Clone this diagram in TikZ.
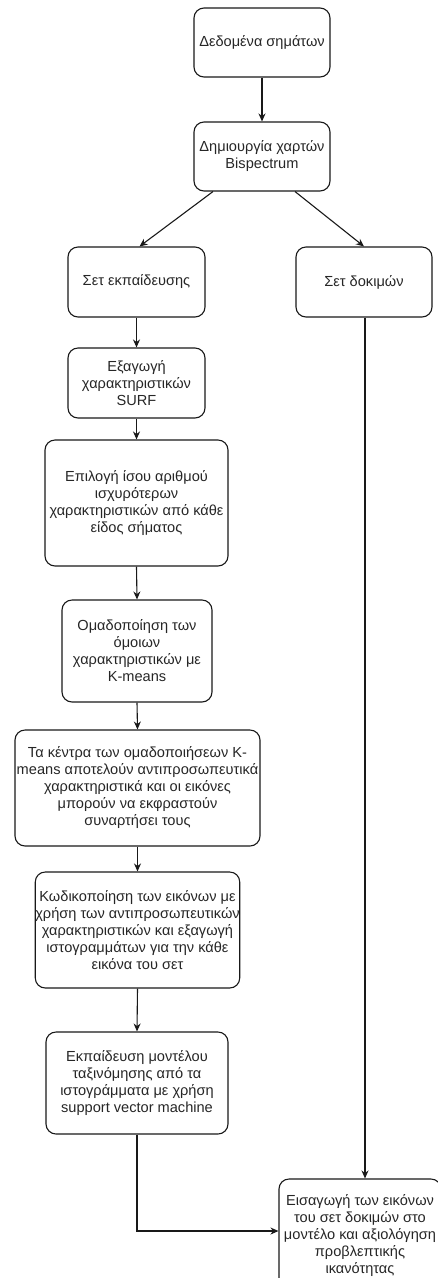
\documentclass[tikz,border=0pt]{standalone}
\usepackage{fontspec}
\setmainfont{Liberation Sans}
\usetikzlibrary{arrows.meta,positioning,calc}

\tikzset{
  stepbox/.style={draw=black!90, line width=1.1pt, rounded corners=10pt,
    inner sep=0pt, align=center, text=black!85,
    font=\fontsize{14.6}{17}\selectfont},
  arr/.style={draw=black!90, line width=1.1pt, -{Stealth[length=8pt,width=7pt]}},
  plain/.style={draw=black!90, line width=1.1pt}
}

\begin{document}
\begin{tikzpicture}[x=1pt,y=-1pt]
  \useasboundingbox (0,0) rectangle (438,1278);
  \clip (0,0) rectangle (438,1278);

  \node[stepbox, minimum width=136pt, minimum height=69pt] (data) at (262,42.5)
    {Δεδομένα σημάτων};
  \node[stepbox, minimum width=136pt, minimum height=69pt] (bisp) at (262,156.5)
    {Δημιουργία χαρτών\\Bispectrum};
  \node[stepbox, minimum width=137pt, minimum height=70pt] (train) at (136.5,282)
    {Σετ εκπαίδευσης};
  \node[stepbox, minimum width=136pt, minimum height=70pt] (test) at (364,282)
    {Σετ δοκιμών};
  \node[stepbox, minimum width=137pt, minimum height=70pt] (surf) at (136.5,383)
    {Εξαγωγή\\χαρακτηριστικών\\SURF};
  \node[stepbox, minimum width=183pt, minimum height=126pt] (select) at (136.5,503)
    {Επιλογή ίσου αριθμού\\ισχυρότερων\\χαρακτηριστικών από κάθε\\είδος σήματος};
  \node[stepbox, minimum width=150pt, minimum height=102pt] (cluster) at (137,651)
    {Ομαδοποίηση των\\όμοιων\\χαρακτηριστικών με\\K-means};
  \node[stepbox, minimum width=245pt, minimum height=116pt] (centres) at (137.5,788)
    {Τα κέντρα των ομαδοποιήσεων K-\\means αποτελούν αντιπροσωπευτικά\\χαρακτηριστικά και οι εικόνες\\μπορούν να εκφραστούν\\συναρτήσει τους};
  \node[stepbox, minimum width=200pt, minimum height=116pt] (encode) at (137.5,930)
    {Κωδικοποίηση των εικόνων με\\χρήση των αντιπροσωπευτικών\\χαρακτηριστικών και εξαγωγή\\ιστογραμμάτων για την κάθε\\εικόνα του σετ};
  \node[stepbox, minimum width=182pt, minimum height=102pt] (svm) at (137,1083)
    {Εκπαίδευση μοντέλου\\ταξινόμησης από τα\\ιστογράμματα με χρήση\\support vector machine};
  \node[stepbox, minimum width=162pt, minimum height=112pt] (final) at (360,1235)
    {Εισαγωγή των εικόνων\\του σετ δοκιμών στο\\μοντέλο και αξιολόγηση\\προβλεπτικής\\ικανότητας};

  \draw[arr] (data.south) -- (bisp.north);
  \draw[arr] ([xshift=-49pt]bisp.south) -- ([xshift=3pt]train.north);
  \draw[arr] ([xshift=33pt]bisp.south) -- (test.north);
  \draw[arr] (train.south) -- (surf.north);
  \draw[arr] (surf.south) -- (select.north);
  \draw[arr] (select.south) -- (cluster.north);
  \draw[arr] (cluster.south) -- (centres.north);
  \draw[arr] (centres.south) -- (encode.north);
  \draw[arr] (encode.south) -- (svm.north);
  \draw[arr] (svm.south) |- ([yshift=4pt]final.west);
  \draw[arr] ([xshift=1pt]test.south) -- ([xshift=1pt]test.south |- final.north);
\end{tikzpicture}
\end{document}
